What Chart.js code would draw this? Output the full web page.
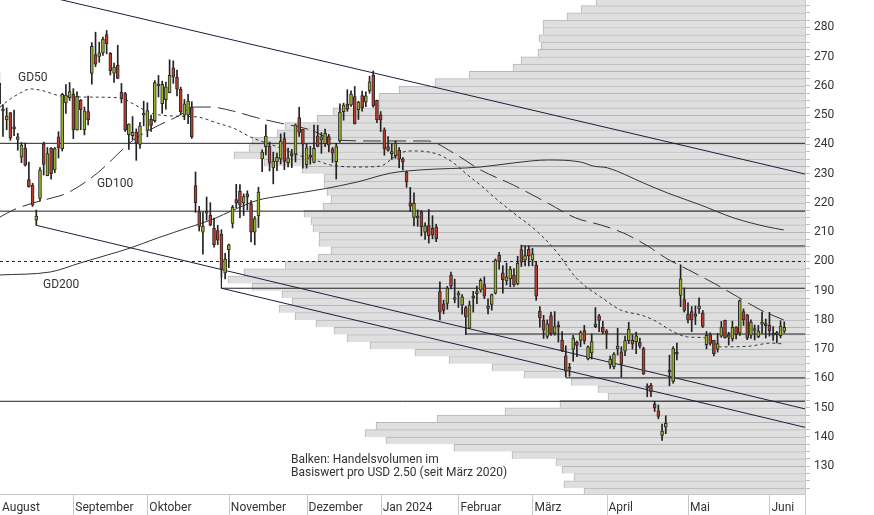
<!DOCTYPE html>
<html>
<head>
<meta charset="utf-8">
<script src="https://cdn.jsdelivr.net/npm/chart.js@4.4.1/dist/chart.umd.min.js"></script>
<style>
  html, body { margin: 0; padding: 0; background: #fff; }
  canvas { display: block; }
</style>
</head>
<body>
<canvas id="chart" width="874" height="515"></canvas>
<script>
// Handelstage ab 1. August 2023 (Index 0); sichtbar ab 4. August (Index 3)
const firstDay = 3;
const monthLabels = ['August', 'September', 'Oktober', 'November', 'Dezember', 'Jan 2024', 'Februar', 'März', 'April', 'Mai', 'Juni'];
const monthStarts = [0, 23, 43, 65, 86, 106, 127, 147, 167, 189, 211];

const opens = [
  260.97, 251.45, 248.42, 250.87, 245.40, 241.77, 235.70, 238.73, 228.02, 226.06, 214.12, 221.55, 240.25, 229.34, 238.66, 231.31, 242.58, 238.58, 254.20, 255.98,
  257.26, 245.00, 255.14, 245.07, 251.22, 264.27, 270.76, 270.07, 271.32, 277.55, 271.16, 264.35, 267.04, 257.85, 257.40, 243.38, 242.98, 244.26, 240.02, 250.00,
  244.81, 248.61, 248.14, 260.00, 253.98, 255.31, 257.75, 266.20, 262.92, 258.90, 250.05, 250.10, 252.70, 225.95, 217.01, 210.00, 216.50, 215.88, 211.32, 210.60, 209.28, 196.12,
  204.04, 212.97, 221.15, 223.98, 219.98, 223.15, 219.75, 210.03, 215.60, 235.03, 239.29, 239.49, 232.00, 234.04, 235.04, 242.04, 233.75, 236.89, 236.68, 249.21, 245.14,
  233.14, 235.75, 233.87, 242.92, 241.55, 240.27, 242.74, 238.55, 234.15, 241.22, 251.21, 253.78, 253.48, 256.41, 251.90, 256.76, 254.49, 258.35, 263.66, 255.10,
  250.08, 244.98, 239.25, 236.86, 236.14, 238.11, 235.10, 230.57, 220.08, 215.10, 214.86, 216.88, 209.99, 212.26, 211.30, 211.88, 189.70, 185.50, 185.63, 195.33, 187.00,
  188.50, 185.04, 184.26, 177.21, 188.18, 189.00, 190.18, 192.11, 183.99, 185.30, 189.16, 202.06, 196.13, 193.36, 194.00, 195.31, 192.29, 204.04, 200.42, 204.18,
  200.52, 198.73, 183.05, 179.99, 174.35, 181.50, 175.45, 177.77, 173.05, 167.77, 163.16, 170.02, 172.36, 173.00, 176.39, 166.69, 168.76, 178.58, 181.41, 177.45,
  176.17, 164.75, 164.02, 170.07, 169.08, 169.34, 172.91, 173.04, 172.55, 172.34, 170.24, 156.74, 157.64, 151.25, 148.97, 140.56, 143.33, 162.84, 158.96, 168.85, 188.42, 186.98,
  182.00, 182.86, 182.10, 183.80, 182.40, 171.59, 175.01, 173.05, 170.00, 174.50, 179.90, 174.10, 173.55, 177.56, 175.51, 182.85, 181.80, 174.84, 176.40, 174.19, 178.58, 178.50,
  178.13, 174.78, 175.35, 174.60, 176.13
];
const highs = [
  264.77, 253.65, 252.50, 250.92, 251.80, 243.79, 240.66, 240.50, 233.97, 226.74, 217.58, 232.13, 240.82, 238.98, 238.92, 239.00, 244.38, 257.48, 260.51, 261.18,
  259.08, 258.00, 255.39, 252.81, 256.52, 274.85, 278.39, 274.98, 276.71, 278.98, 271.44, 267.85, 273.93, 260.86, 257.79, 247.10, 249.55, 245.33, 247.55, 254.77,
  254.28, 250.02, 261.86, 263.60, 261.65, 261.36, 268.94, 268.60, 265.41, 259.60, 255.40, 257.18, 254.63, 230.61, 218.86, 216.98, 222.05, 220.10, 214.80, 212.41, 210.88, 202.80,
  205.99, 219.20, 226.37, 226.32, 223.12, 224.15, 220.80, 215.38, 225.40, 238.14, 246.70, 240.88, 237.39, 237.10, 243.62, 244.01, 238.75, 238.33, 247.00, 252.75, 245.22,
  240.19, 239.37, 246.66, 246.57, 244.08, 245.27, 243.44, 238.99, 240.30, 253.88, 254.13, 258.74, 258.34, 259.84, 254.80, 258.22, 257.97, 263.34, 265.13, 255.19,
  251.25, 245.68, 242.70, 240.12, 241.25, 238.96, 235.50, 230.93, 225.34, 223.49, 217.65, 217.45, 213.19, 217.80, 215.65, 212.73, 193.00, 186.78, 191.48, 196.36, 193.97,
  189.88, 188.69, 184.68, 186.49, 189.79, 191.62, 194.12, 194.73, 187.26, 188.89, 200.88, 203.17, 198.60, 199.44, 198.32, 197.57, 201.78, 205.60, 205.30, 205.28,
  204.52, 199.75, 184.59, 181.58, 180.04, 182.73, 182.87, 179.43, 176.05, 171.17, 165.18, 174.72, 172.82, 176.25, 178.18, 171.20, 175.24, 184.25, 181.91, 179.57,
  176.75, 167.69, 168.82, 177.19, 170.86, 174.50, 179.22, 174.93, 175.88, 173.81, 170.69, 158.19, 158.33, 152.20, 150.94, 144.44, 147.26, 167.97, 170.88, 172.12, 198.87, 190.95,
  185.86, 184.60, 184.78, 187.56, 183.26, 176.06, 175.62, 173.06, 175.40, 179.49, 179.99, 175.79, 179.63, 177.75, 186.88, 183.80, 181.90, 180.08, 178.25, 178.15, 182.67, 180.32,
  182.64, 177.76, 176.15, 179.73, 179.35
];
const lows = [
  253.11, 242.76, 245.02, 241.42, 243.00, 238.02, 233.75, 232.61, 225.38, 218.83, 212.36, 220.58, 229.55, 229.29, 228.18, 230.35, 235.35, 237.77, 250.59, 255.05,
  242.01, 244.86, 245.06, 243.27, 246.67, 260.61, 266.60, 268.10, 270.42, 271.00, 263.76, 261.20, 262.46, 254.21, 244.48, 238.31, 241.66, 234.58, 238.65, 246.35,
  242.62, 244.45, 247.60, 256.25, 250.65, 252.05, 257.65, 260.90, 256.63, 250.22, 248.48, 247.08, 242.08, 216.78, 210.42, 202.51, 214.11, 212.20, 204.88, 205.77, 194.67, 194.07,
  197.85, 211.45, 218.40, 215.00, 215.72, 217.64, 206.68, 205.69, 211.61, 230.72, 236.45, 230.96, 226.54, 231.02, 233.34, 231.40, 232.33, 232.10, 234.01, 242.76, 231.90,
  231.90, 233.29, 233.70, 239.17, 236.98, 239.27, 237.45, 233.87, 228.20, 240.79, 248.30, 251.36, 253.01, 247.00, 248.55, 251.37, 252.91, 257.52, 252.71, 247.43,
  244.41, 236.32, 237.73, 234.90, 235.30, 232.04, 231.29, 225.37, 217.15, 212.18, 212.01, 208.74, 207.56, 206.27, 207.75, 206.77, 180.06, 182.10, 183.67, 190.61, 185.85,
  184.28, 182.00, 175.01, 177.11, 182.68, 185.58, 189.48, 187.28, 182.10, 183.35, 188.86, 197.40, 189.13, 191.95, 191.36, 191.50, 192.00, 198.26, 198.44, 198.45,
  198.50, 186.72, 177.57, 173.70, 173.70, 174.70, 174.80, 172.41, 169.15, 160.51, 160.76, 165.90, 167.42, 170.82, 171.80, 166.30, 166.65, 177.38, 176.00, 175.30,
  170.21, 163.43, 163.28, 168.01, 160.51, 167.79, 171.92, 170.01, 168.51, 170.36, 161.38, 153.75, 153.78, 148.70, 146.22, 138.80, 141.11, 157.51, 158.36, 166.37, 184.54, 182.72,
  179.01, 176.02, 178.42, 182.20, 177.40, 170.15, 171.37, 167.75, 169.00, 174.07, 173.82, 171.43, 172.75, 173.52, 174.71, 178.12, 173.26, 173.73, 173.16, 173.93, 175.38, 173.82,
  174.49, 173.00, 172.13, 173.87, 175.58
];
const closes = [
  253.86, 251.45, 249.70, 242.19, 245.34, 242.65, 239.76, 232.96, 225.60, 219.22, 215.49, 231.28, 233.19, 236.86, 230.04, 238.59, 238.82, 257.18, 256.90, 258.08,
  245.01, 256.49, 251.92, 251.49, 248.50, 273.58, 267.48, 271.30, 276.04, 274.39, 265.28, 266.50, 262.59, 255.70, 244.88, 246.99, 244.12, 240.50, 246.38, 250.22,
  251.60, 246.53, 261.16, 260.05, 260.53, 259.67, 263.62, 262.99, 258.87, 251.12, 253.92, 254.85, 242.68, 220.11, 211.99, 212.08, 216.52, 212.42, 205.76, 207.30, 197.36, 200.84,
  205.66, 218.51, 219.96, 219.27, 222.18, 222.11, 209.98, 214.65, 223.71, 237.41, 242.84, 233.59, 234.30, 235.60, 241.20, 234.21, 235.45, 236.08, 246.72, 244.14, 240.08,
  238.83, 235.58, 238.72, 239.37, 242.64, 243.84, 239.74, 237.01, 239.29, 251.05, 253.50, 252.08, 257.22, 247.14, 254.50, 252.54, 256.61, 261.44, 253.18, 248.48,
  248.42, 238.45, 237.93, 237.49, 240.45, 234.96, 233.94, 227.22, 218.89, 219.91, 215.55, 211.88, 212.19, 208.80, 209.14, 207.83, 182.63, 183.25, 190.93, 191.59, 187.29,
  188.86, 187.91, 181.06, 185.10, 187.58, 189.56, 193.57, 188.13, 184.02, 188.71, 200.45, 199.95, 193.76, 194.77, 197.41, 191.97, 199.40, 199.73, 202.04, 201.88,
  202.64, 188.14, 180.74, 176.54, 178.65, 175.34, 177.77, 177.54, 169.48, 162.50, 163.57, 173.80, 171.32, 175.66, 172.82, 170.83, 172.63, 177.67, 179.83, 175.79,
  175.22, 166.63, 168.38, 171.11, 164.90, 172.98, 176.88, 171.76, 174.60, 171.05, 161.48, 157.11, 155.45, 149.93, 147.05, 142.05, 144.68, 162.13, 170.18, 168.29, 194.05, 183.28,
  179.99, 180.01, 181.19, 184.76, 177.81, 174.72, 171.97, 168.47, 171.89, 177.55, 173.99, 174.84, 177.46, 174.95, 186.60, 180.11, 173.74, 179.24, 176.75, 176.19, 178.79, 178.08,
  176.29, 174.77, 175.00, 177.94, 177.48
];

// gleitende Durchschnitte [Handelstag, Kurs]
const gd50 = [[3.2,252.8],[5.95,255.5],[8.65,257.6],[11.35,259.0],[14.05,258.6],[16.76,257.6],[19.46,256.6],[27.57,256.2],[35.68,255.9],[39.73,253.5],[43.78,250.8],[50.54,249.7],[56.49,249.4],[61.89,247.3],[66.22,245.6],[70.81,242.6],[78.92,238.8],[84.32,236.1],[88.92,234.4],[92.43,233.0],[99.73,232.3],[105.95,232.6],[108.65,234.7],[111.35,237.1],[114.86,237.8],[121.35,236.7],[125.68,233.7],[129.46,229.6],[132.97,226.1],[137.57,221.0],[141.89,216.6],[148.38,210.1],[153.78,202.9],[158.11,195.4],[160.81,192.0],[165.41,187.9],[170.81,183.4],[176.22,181.7],[179.73,180.0],[185.14,175.9],[188.92,174.2],[194.32,173.8],[197.84,170.8],[205.95,171.1],[211.35,172.1],[214.86,171.8]];
const gd100 = [[3.2,215.2],[6.76,217.6],[12.16,220.0],[16.22,221.4],[21.35,223.4],[29.46,230.2],[39.19,241.5],[44.59,245.6],[51.89,250.1],[55.41,252.8],[60.0,252.8],[66.22,251.4],[72.7,249.1],[78.92,247.3],[87.03,245.0],[93.78,241.5],[105.95,241.2],[118.65,241.2],[125.68,237.1],[132.97,231.3],[141.89,226.1],[151.08,220.0],[158.65,214.9],[165.41,212.5],[171.62,209.7],[178.11,205.3],[182.97,201.2],[189.19,197.1],[195.95,192.6],[202.43,187.9],[208.65,183.4],[214.86,180.0]];
const gd200 = [[3.2,195.4],[16.76,196.4],[24.86,199.5],[32.16,202.2],[38.38,204.6],[45.68,208.0],[54.59,211.8],[60.81,214.5],[66.22,217.6],[72.97,221.0],[78.92,222.4],[90.54,224.8],[99.73,227.2],[108.65,230.2],[116.76,231.3],[132.97,232.3],[141.89,233.7],[151.08,234.7],[160.0,234.0],[163.51,232.6],[167.3,232.0],[177.03,226.8],[183.51,223.4],[192.43,219.3],[201.35,214.9],[210.54,211.8],[214.86,210.8]];

// Handelsvolumen je Preisband von USD 2.50 (Untergrenze des Bandes, relative Menge)
const volLow = [287.5,285,282.5,280,277.5,275,272.5,270,267.5,265,262.5,260,257.5,255,252.5,250,247.5,245,242.5,240,237.5,235,232.5,230,227.5,225,222.5,220,217.5,215,212.5,210,207.5,205,202.5,200,197.5,195,192.5,190,187.5,185,182.5,180,177.5,175,172.5,170,167.5,165,162.5,160,157.5,155,152.5,150,147.5,145,142.5,140,137.5,135,132.5,130,127.5,125,122.5,120];
const volAmount = [209,224,238,262,262,266,264,267,284,292,336,370,406,426,426,472,488,520,528,553,556,571,541,503,481,481,478,474,482,501,494,492,486,486,474,487,520,561,577,553,523,513,526,510,489,471,458,435,390,356,313,281,234,207,197,245,300,368,429,440,419,351,293,249,243,231,241,221];

// Unterstützungen / Widerstände [Start-Handelstag, Kurs]
const levels = [[3.2,240.4],[3.2,217.2],[144,205.3],[129,175.2],[156,160.2],[3.2,152.2]];
const level191 = [[63,194.67],[63,190.85]];
const dashedLevel = 200;
// Trendkanal
const trendUpper = [[-9,298.0],[220.6,229.9]];
const trendLowA = [[13,212.36],[220.6,149.6]];
const trendLowB = [[63,190.85],[220.6,143.3]];

const labels = [
  {text: 'GD50', x: 8.05, y: 262.9},
  {text: 'GD100', x: 29.38, y: 226.66},
  {text: 'GD200', x: 14.8, y: 192.12},
  {text: 'Balken: Handelsvolumen im', x: 81.77, y: 132.12},
  {text: 'Basiswert pro USD 2.50 (seit März 2020)', x: 81.77, y: 127.68}
];

const xMin = 3.2, xMax = 220.6;
const yMin = 120.5, yMax = 289.4;
const upColor = '#9db21f', downColor = '#bf3a2b';

const pts = arr => arr.map(p => ({x: p[0], y: p[1]}));

const bodies = [], wicks = [], bodyColors = [];
opens.forEach((o, i) => {
  const c = closes[i];
  bodies.push({x: firstDay + i, y: [Math.min(o, c), Math.max(o, c)]});
  wicks.push({x: firstDay + i, y: [lows[i], highs[i]]});
  bodyColors.push(c >= o ? upColor : downColor);
});

const lineDs = (data, extra) => Object.assign({
  type: 'line', data: data, xAxisID: 'x', yAxisID: 'y',
  borderColor: '#222', borderWidth: 1, pointRadius: 0, fill: false, tension: 0
}, extra);

const datasets = [
  {
    type: 'bar', indexAxis: 'y', xAxisID: 'xv', yAxisID: 'y',
    data: volLow.map((v, i) => ({y: v + 1.25, x: volAmount[i]})),
    backgroundColor: '#dfdfdf', borderColor: '#b6b6b6',
    borderWidth: {top: 1, left: 1, right: 0, bottom: 0}, borderSkipped: false,
    barThickness: 7.31, grouped: false, order: 10
  },
  lineDs([{x: xMin, y: dashedLevel}, {x: xMax, y: dashedLevel}], {borderDash: [3, 3], order: 8}),
  lineDs(pts(level191).concat([{x: xMax, y: 190.85}]), {order: 8}),
  ...levels.map(l => lineDs([{x: l[0], y: l[1]}, {x: xMax, y: l[1]}], {order: 8})),
  lineDs(pts(trendUpper), {borderColor: '#18203c', order: 7}),
  lineDs(pts(trendLowA), {borderColor: '#18203c', order: 7}),
  lineDs(pts(trendLowB), {borderColor: '#18203c', order: 7}),
  lineDs(pts(gd50), {borderColor: '#333', borderDash: [3, 3], cubicInterpolationMode: 'monotone', order: 6}),
  lineDs(pts(gd100), {borderColor: '#333', borderDash: [18, 7], cubicInterpolationMode: 'monotone', order: 6}),
  lineDs(pts(gd200), {borderColor: '#333', cubicInterpolationMode: 'monotone', order: 6}),
  {
    type: 'bar', data: wicks, xAxisID: 'x', yAxisID: 'y',
    backgroundColor: '#222', borderWidth: 0, barThickness: 1, grouped: false, order: 2
  },
  {
    type: 'bar', data: bodies, xAxisID: 'x', yAxisID: 'y',
    backgroundColor: bodyColors, borderColor: '#2a2a2a', borderWidth: 1, borderSkipped: false,
    barThickness: 3, minBarLength: 2, grouped: false, order: 1
  }
];

// Monatstrenner unter der Zeitachse und Beschriftungen im Chart
const extras = {
  id: 'extras',
  afterDraw(chart) {
    const {ctx, chartArea, scales: {x, y}} = chart;
    ctx.save();
    ctx.strokeStyle = '#c8c8c8';
    ctx.lineWidth = 1;
    ctx.beginPath();
    monthStarts.forEach(m => {
      if (m < xMin) return;
      const px = Math.round(x.getPixelForValue(m)) + 0.5;
      ctx.moveTo(px, chartArea.bottom);
      ctx.lineTo(px, chart.height);
    });
    const rx = Math.round(chartArea.right) + 0.5;
    ctx.moveTo(rx, chartArea.bottom);
    ctx.lineTo(rx, chart.height);
    ctx.stroke();

    ctx.font = '12px Roboto, "Noto Sans", sans-serif';
    ctx.fillStyle = '#333';
    ctx.textAlign = 'left';
    ctx.textBaseline = 'middle';
    labels.forEach(l => ctx.fillText(l.text, x.getPixelForValue(l.x), y.getPixelForValue(l.y)));
    ctx.restore();
  }
};

Chart.defaults.font.family = 'Roboto, "Noto Sans", sans-serif';
Chart.defaults.font.size = 12;
Chart.defaults.color = '#333';

new Chart(document.getElementById('chart'), {
  type: 'bar',
  data: {datasets},
  options: {
    responsive: false,
    animation: false,
    events: [],
    layout: {padding: 0},
    plugins: {legend: {display: false}, tooltip: {enabled: false}},
    scales: {
      x: {
        type: 'linear', position: 'bottom', min: xMin, max: xMax, offset: false,
        afterFit(s) { s.height = 21; s.paddingLeft = 0; s.paddingRight = 0; },
        afterBuildTicks(s) { s.ticks = monthStarts.map(v => ({value: Math.max(v, xMin)})); },
        ticks: {
          autoSkip: false, maxRotation: 0, align: 'start', labelOffset: 2, padding: 7,
          callback: (v, i) => monthLabels[i]
        },
        grid: {display: true, drawOnChartArea: false, drawTicks: false, offset: false},
        border: {color: '#c8c8c8'}
      },
      xv: {
        type: 'linear', axis: 'x', display: false, min: 0, max: 805, reverse: true, offset: false
      },
      y: {
        type: 'linear', position: 'right', min: yMin, max: yMax, offset: false,
        afterFit(s) { s.width = 69; s.paddingTop = 0; s.paddingBottom = 0; },
        afterBuildTicks(s) {
          const t = [];
          for (let v = 122.5; v < yMax; v += 2.5) t.push({value: v});
          s.ticks = t;
        },
        ticks: {
          autoSkip: false, padding: 4,
          callback: v => (v % 10 === 0 ? String(v) : '')
        },
        grid: {drawOnChartArea: false, tickLength: 5, color: '#bdbdbd', offset: false},
        border: {color: '#c8c8c8'}
      }
    }
  },
  plugins: [extras]
});
</script>
</body>
</html>
